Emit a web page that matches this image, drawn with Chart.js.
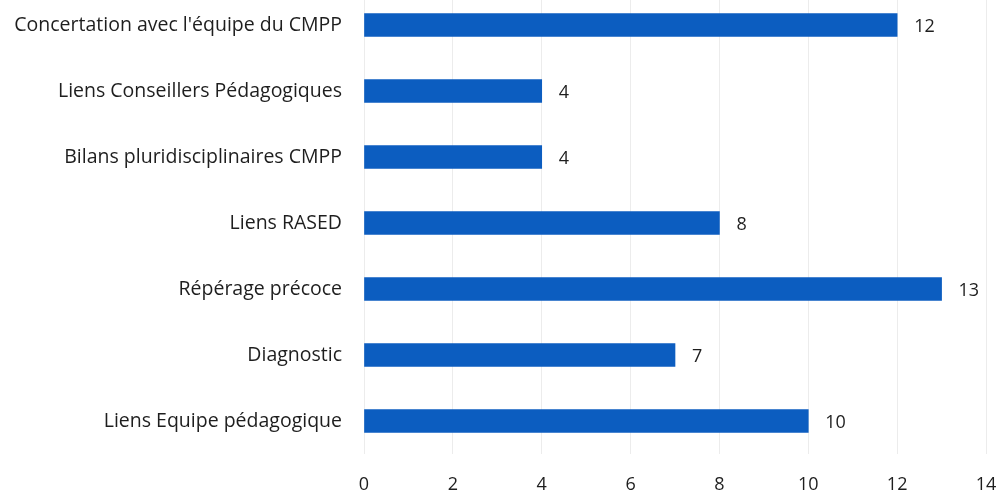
<!DOCTYPE html>
<html>
<head>
<meta charset="utf-8">
<script src="https://cdn.jsdelivr.net/npm/chart.js@4/dist/chart.umd.min.js"></script>
<style>
  html, body { margin: 0; padding: 0; background: #ffffff; overflow: hidden; }
  #wrap { position: absolute; left: 0; top: -8px; width: 999px; height: 505px; }
</style>
</head>
<body>
<div id="wrap"><canvas id="chart"></canvas></div>
<script>
// Activités et partenariats : nombre de réponses par item
const categories = [
  "Concertation avec l'équipe du CMPP",
  "Liens Conseillers Pédagogiques",
  "Bilans pluridisciplinaires CMPP",
  "Liens RASED",
  "Répérage précoce",
  "Diagnostic",
  "Liens Equipe pédagogique"
];
const counts = [12, 4, 4, 8, 13, 7, 10];
const axisMin = 0;
const axisMax = 14;
const axisStep = 2;

const FONT = "'Open Sans', Lato, sans-serif";
const TEXT = "#1e1e1e";

// Writes each bar's value just past its end
const valueLabels = {
  id: 'valueLabels',
  afterDatasetsDraw(chart) {
    const ctx = chart.ctx;
    const meta = chart.getDatasetMeta(0);
    ctx.save();
    ctx.font = "18px " + FONT;
    ctx.fillStyle = TEXT;
    ctx.textAlign = 'left';
    ctx.textBaseline = 'middle';
    meta.data.forEach((bar, i) => {
      ctx.fillText(String(counts[i]), bar.x + 17, bar.y + 2);
    });
    ctx.restore();
  }
};

new Chart(document.getElementById('chart'), {
  type: 'bar',
  data: {
    labels: categories,
    datasets: [{
      data: counts,
      backgroundColor: '#0c5dc0',
      borderWidth: 0,
      barThickness: 23
    }]
  },
  options: {
    indexAxis: 'y',
    responsive: true,
    maintainAspectRatio: false,
    animation: false,
    layout: { padding: { left: 0, right: 13, top: 0, bottom: 0 } },
    plugins: {
      legend: { display: false },
      tooltip: { enabled: false }
    },
    scales: {
      x: {
        min: axisMin,
        max: axisMax,
        ticks: {
          stepSize: axisStep,
          color: TEXT,
          font: { family: FONT, size: 18 },
          padding: 20
        },
        grid: { color: '#ececec', lineWidth: 1, drawTicks: false },
        border: { display: false },
        afterFit(scale) {
          scale.height = 43;
          scale.paddingLeft = 0;
          scale.paddingRight = 0;
        }
      },
      y: {
        ticks: {
          color: TEXT,
          font: { family: FONT, size: 19.5 },
          padding: 22
        },
        grid: { display: false, drawTicks: false },
        border: { display: false },
        afterFit(scale) {
          scale.width = 364;
          scale.paddingTop = 0;
          scale.paddingBottom = 0;
        }
      }
    }
  },
  plugins: [valueLabels]
});
</script>
</body>
</html>
